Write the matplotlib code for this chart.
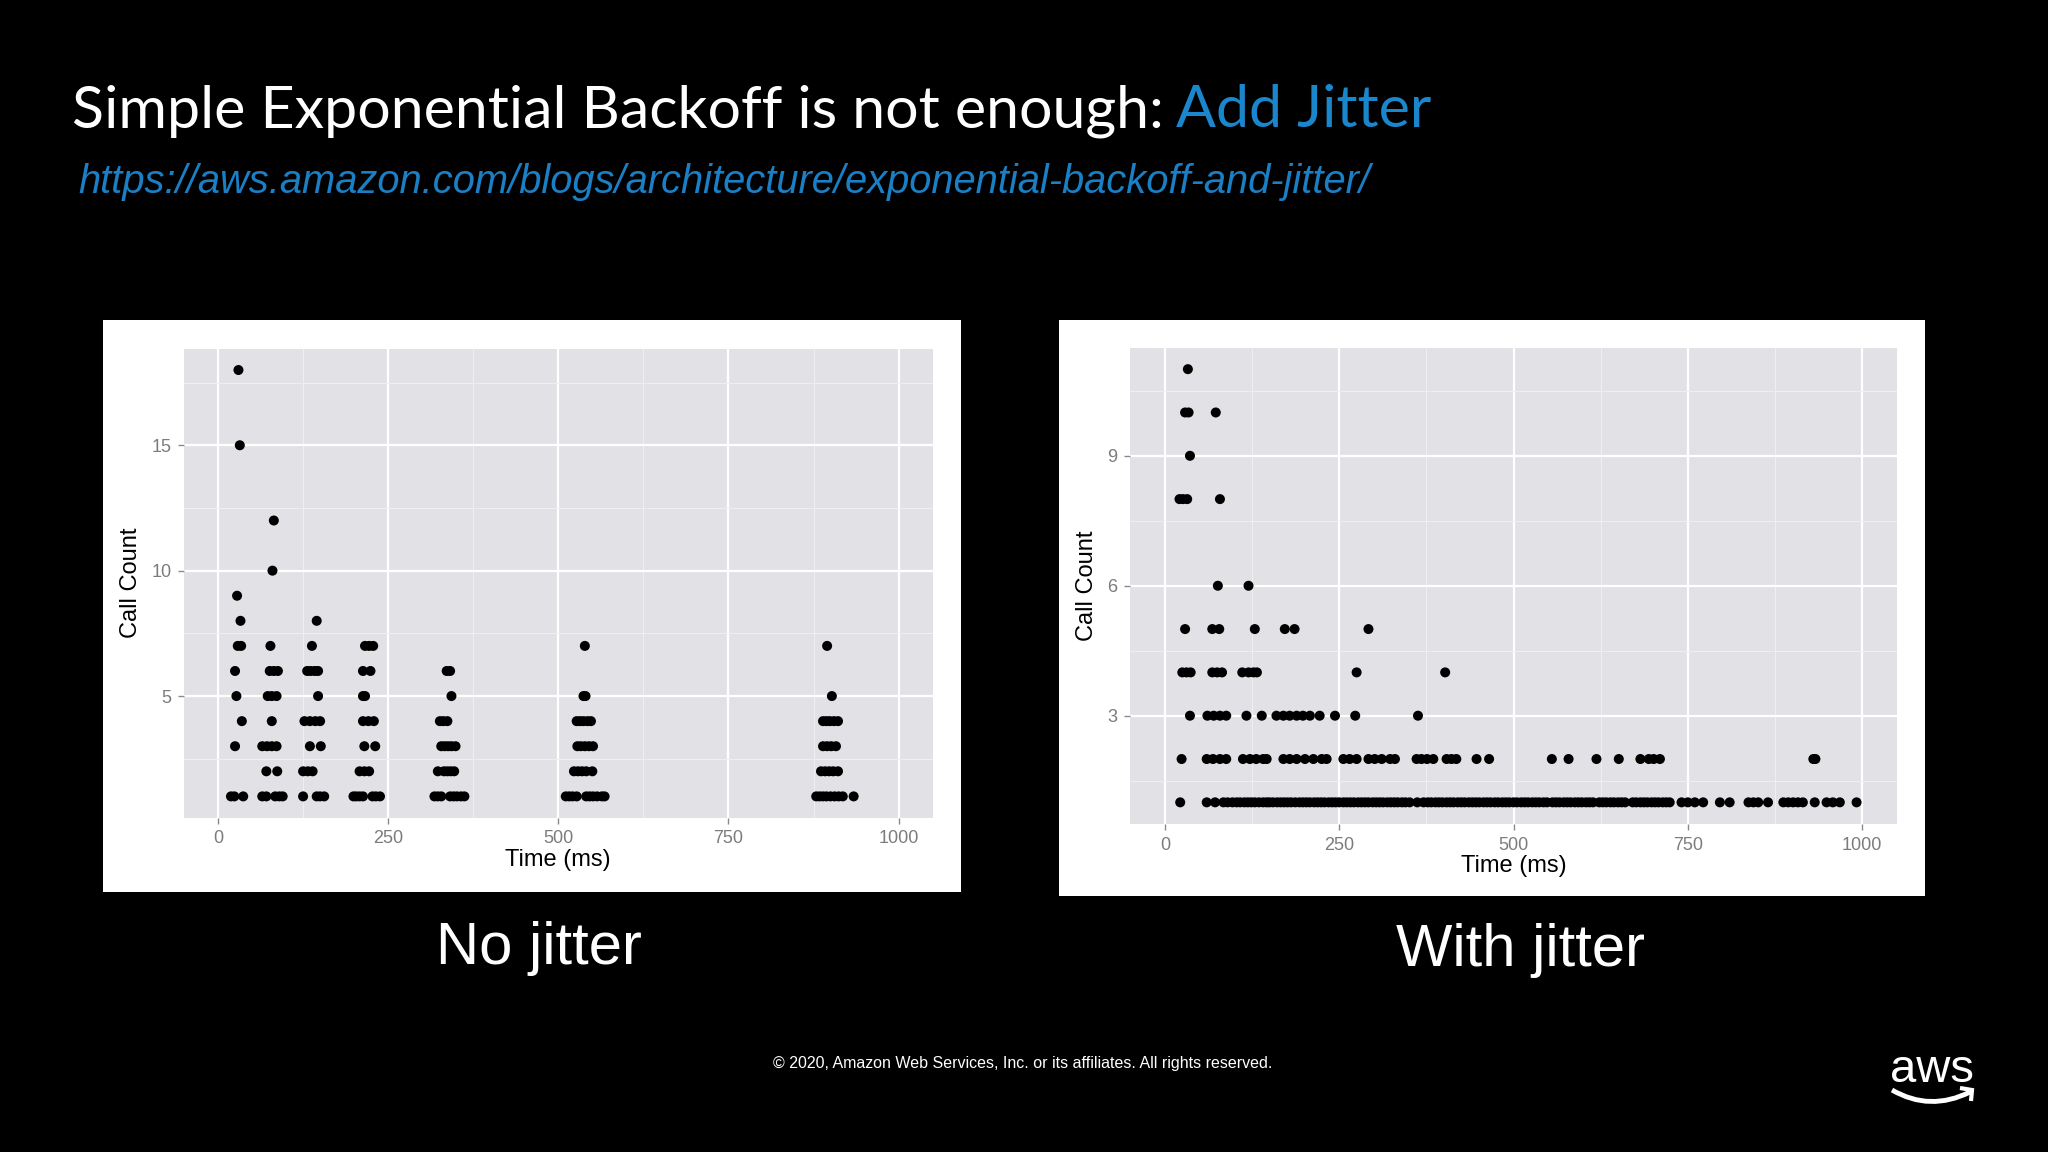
import matplotlib.pyplot as plt
from matplotlib.patches import Rectangle, PathPatch
from matplotlib.path import Path
import numpy as np

# ---- No jitter: (time ms) per call-count row ----
nj_rows = {
    18: [30],
    15: [32],
    12: [82],
    10: [80],
    9: [28],
    8: [33, 145],
    7: [29, 34, 77, 138, 216, 222, 228, 539, 895],
    6: [25, 76, 82, 88, 131, 136, 142, 147, 213, 224, 336, 341],
    5: [27, 73, 79, 86, 147, 213, 216, 343, 537, 540, 902],
    4: [35, 79, 127, 135, 143, 150, 213, 221, 229, 326, 331, 337,
        527, 532, 537, 543, 548, 889, 894, 899, 905, 911],
    3: [25, 65, 72, 79, 86, 135, 151, 215, 231, 328, 333, 338, 343, 349,
        528, 533, 539, 545, 551, 889, 895, 901, 908],
    2: [71, 87, 125, 132, 139, 208, 215, 222, 323, 332, 337, 342, 347,
        523, 529, 535, 541, 550, 886, 892, 898, 904, 911],
    1: [19, 24, 37, 65, 71, 84, 90, 95, 125, 145, 150, 156, 199, 203, 208,
        213, 227, 232, 238, 318, 323, 328, 341, 346, 351, 357, 362,
        511, 516, 521, 527, 541, 546, 551, 557, 564, 568,
        879, 884, 889, 894, 900, 906, 912, 918, 934],
}

# ---- With jitter ----
wj_rows = {
    11: [33],
    10: [29, 34, 73],
    9: [36],
    8: [21, 26, 32, 79],
    6: [76, 120],
    5: [29, 68, 78, 129, 172, 186, 292],
    4: [25, 31, 37, 68, 75, 82, 111, 120, 127, 132, 275, 402],
    3: [36, 61, 70, 79, 88, 117, 139, 160, 170, 179, 189, 198, 208,
        222, 244, 273, 363],
    2: [24, 60, 69, 79, 88, 112, 122, 131, 141, 146, 170, 179, 189, 201,
        213, 225, 232, 256, 265, 275, 292, 301, 311, 323, 330, 361, 368,
        376, 385, 404, 411, 418, 447, 465, 555, 579, 619, 651, 682, 694,
        701, 710, 930, 933],
    1: [22, 60, 72, 84, 90, 97, 103, 108, 114, 119, 124, 129, 135, 141, 146,
        150, 155, 161, 166, 171, 176, 181, 187, 193, 198, 203, 208, 214,
        219, 224, 229, 235, 240, 245, 250, 256, 261, 266, 271, 277, 282,
        287, 292, 298, 303, 308, 313, 319, 324, 329, 334, 340, 345, 351,
        362, 371, 377, 382, 388, 393, 398, 404, 409, 414, 420, 425, 430,
        436, 441, 446, 451, 457, 462, 467, 473, 478, 484, 489, 494, 500,
        505, 511, 516, 521, 527, 532, 537, 543, 548, 556, 561, 566, 572,
        577, 582, 588, 593, 598, 604, 609, 614, 623, 628, 633, 639, 644,
        650, 655, 660, 671, 676, 682, 687, 692, 698, 703, 708, 714, 719,
        724, 741, 750, 760, 772, 796, 810, 837, 844, 851, 865, 887, 894,
        901, 908, 915, 932, 949, 958, 968, 992],
}

x_ticks = [0, 250, 500, 750, 1000]
nj_yticks = [5, 10, 15]
wj_yticks = [3, 6, 9]

W, H = 2048, 1152
plt.rcParams['font.family'] = ['Liberation Sans', 'DejaVu Sans']
fig = plt.figure(figsize=(20.48, 11.52), dpi=100, facecolor='black')


def fx(px):
    return px / W


def fy(py):
    return 1 - py / H


# white card behind each chart
for (x0, y0, x1, y1) in [(103, 320, 961, 892), (1059, 320, 1925, 896)]:
    fig.add_artist(Rectangle((fx(x0), fy(y1)), fx(x1) - fx(x0), fy(y0) - fy(y1),
                             transform=fig.transFigure, facecolor='white',
                             edgecolor='none', zorder=0))


def gg_scatter(ax, rows, yticks, ylim, yminor):
    xs, ys = [], []
    for cnt, times in rows.items():
        xs += times
        ys += [cnt] * len(times)
    ax.set_facecolor('#e2e1e5')
    ax.set_xlim(-50, 1050)
    ax.set_ylim(*ylim)
    ax.set_xticks(x_ticks)
    ax.set_yticks(yticks)
    ax.set_xticks([125, 375, 625, 875], minor=True)
    ax.set_yticks(yminor, minor=True)
    ax.grid(which='major', color='white', linewidth=1.6)
    ax.grid(which='minor', color='#efeff1', linewidth=0.8)
    ax.set_axisbelow(True)
    for s in ax.spines.values():
        s.set_visible(False)
    ax.tick_params(which='major', length=4, width=1, color='#8a8a8a',
                   labelcolor='#7c7c7c', labelsize=13, pad=5)
    ax.tick_params(which='minor', length=0)
    ax.scatter(xs, ys, s=52, color='black', edgecolors='none', zorder=3)
    ax.set_xlabel('Time (ms)', fontsize=17, labelpad=1)
    ax.set_ylabel('Call Count', fontsize=17, labelpad=7)


ax1 = fig.add_axes([fx(184), fy(817.7), fx(932.6) - fx(184), fy(348.7) - fy(817.7)])
gg_scatter(ax1, nj_rows, nj_yticks, (0.15, 18.85), [2.5, 7.5, 12.5, 17.5])

ax2 = fig.add_axes([fx(1130), fy(824), fx(1897) - fx(1130), fy(347.5) - fy(824)])
gg_scatter(ax2, wj_rows, wj_yticks, (0.5, 11.5), [1.5, 4.5, 7.5, 10.5])

# title in two colours
renderer = fig.canvas.get_renderer()
t1 = fig.text(fx(72), fy(127), 'Simple Exponential Backoff is not enough:',
              color='white', fontsize=42.6, family='Lato',
              va='baseline', ha='left')
bb = t1.get_window_extent(renderer)
fig.text(bb.x1 / W + 0.006, fy(127), 'Add Jitter', color='#1a86cc',
         fontsize=42.6, family='Lato', va='baseline', ha='left')

fig.text(fx(78), fy(193), 'https://aws.amazon.com/blogs/architecture/exponential-backoff-and-jitter/',
         color='#1a7fc4', fontsize=28.7, style='italic',
         va='baseline', ha='left')

fig.text(fx(539), fy(964), 'No jitter', color='white', fontsize=43,
         ha='center', va='baseline')
fig.text(fx(1521), fy(966), 'With jitter', color='white', fontsize=43,
         ha='center', va='baseline')

fig.text(fx(1023), fy(1068), '\u00a9 2020, Amazon Web Services, Inc. or its affiliates. All rights reserved.',
         color='white', fontsize=11.5, ha='center', va='baseline')

# aws logo
fig.text(fx(1932), fy(1082), 'aws', color='white', fontsize=34,
         ha='center', va='baseline')
smile = Path([(fx(1892), fy(1090)), (fx(1930), fy(1112)), (fx(1970), fy(1092))],
             [Path.MOVETO, Path.CURVE3, Path.CURVE3])
fig.add_artist(PathPatch(smile, transform=fig.transFigure, facecolor='none',
                         edgecolor='white', linewidth=3.5))
arrow = Path([(fx(1960), fy(1088)), (fx(1972), fy(1090)), (fx(1971), fy(1101))],
             [Path.MOVETO, Path.LINETO, Path.LINETO])
fig.add_artist(PathPatch(arrow, transform=fig.transFigure, facecolor='none',
                         edgecolor='white', linewidth=3))

fig.savefig('out.png', dpi=100, facecolor='black')
